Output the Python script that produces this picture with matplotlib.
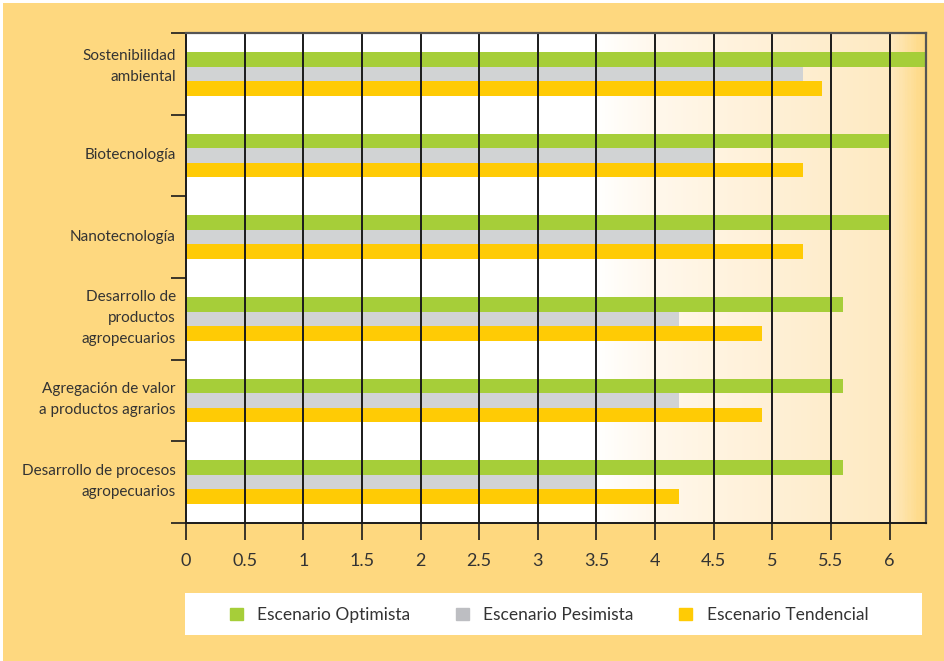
import numpy as np
import matplotlib
import matplotlib.pyplot as plt
from matplotlib.colors import LinearSegmentedColormap
from matplotlib.patches import Rectangle, Patch
from matplotlib.transforms import blended_transform_factory

matplotlib.rcParams.update({'font.family': ['Lato', 'DejaVu Sans']})

# ============================================================
# Data
# ============================================================
categories = [
    "Sostenibilidad\nambiental",
    "Biotecnología",
    "Nanotecnología",
    "Desarrollo de\nproductos\nagropecuarios",
    "Agregación de valor\na productos agrarios",
    "Desarrollo de procesos\nagropecuarios",
]
optimista  = [6.3, 6.0, 6.0, 5.6, 5.6, 5.6]
pesimista  = [5.26, 4.5, 4.5, 4.2, 4.2, 3.5]
tendencial = [5.42, 5.26, 5.26, 4.91, 4.91, 4.2]
series_names = ["Escenario Optimista", "Escenario Pesimista", "Escenario Tendencial"]
xticks = np.arange(0, 6.01, 0.5)
xtick_labels = ["0", "0.5", "1", "1.5", "2", "2.5", "3", "3.5", "4", "4.5", "5", "5.5", "6"]

# ============================================================
# Style
# ============================================================
bg_yellow  = '#FED87F'
c_green    = '#A6CE39'
c_grey     = '#D1D3D4'
c_grey_leg = '#BDBEC2'
c_yellow   = '#FFCB05'
txt_col    = '#333333'
xmax = 6.31

fig = plt.figure(figsize=(9.45, 6.61), dpi=100)
fig.patch.set_facecolor('white')
fig.patches.append(Rectangle((3/945, 0), 1, 1 - 3/661, transform=fig.transFigure,
                             facecolor=bg_yellow, edgecolor='none', zorder=-10))

ax = fig.add_axes([186/945, 1 - 523/661, (926 - 186)/945, (523 - 33)/661])
ax.set_facecolor('white')

# background gradient inside the plot area
grad_cmap = LinearSegmentedColormap.from_list('bg', [
    (0.0, '#FFFFFF'),
    (3.5/xmax, '#FFFFFF'),
    (4.0/xmax, '#FFF8EC'),
    (5.0/xmax, '#FFF0D6'),
    (6.0/xmax, '#FEEAC2'),
    (6.12/xmax, '#FEE4AC'),
    (1.0, '#FED983'),
])
grad = np.linspace(0, 1, 600).reshape(1, -1)
ax.imshow(grad, cmap=grad_cmap, aspect='auto', extent=[0, xmax, 5.5, -0.5],
          zorder=0, interpolation='bilinear')

y = np.arange(len(categories))
h = 0.178
ax.barh(y - h, optimista,  height=h, color=c_green,  zorder=2)
ax.barh(y,     pesimista,  height=h, color=c_grey,   zorder=2)
ax.barh(y + h, tendencial, height=h, color=c_yellow, zorder=2)

ax.set_xlim(0, xmax)
ax.set_ylim(5.5, -0.5)

# vertical grid lines on top of bars
for xv in xticks[1:]:
    ax.axvline(xv, color='#1a1a1a', lw=1.4, zorder=3)

ax.set_xticks(xticks)
ax.set_xticklabels(xtick_labels)
ax.tick_params(axis='x', direction='out', length=12.5, width=1.2, color='#1a1a1a',
               labelsize=13, labelcolor=txt_col, pad=9)

# category labels (first one sits a bit higher in the original)
ax.set_yticks([])
ax.set_yticks(np.arange(-0.5, 5.6, 1.0), minor=True)
ax.tick_params(axis='y', which='minor', direction='out', length=11, width=1.2, color='#1a1a1a')
lab_tr = blended_transform_factory(fig.transFigure, ax.transData)
lab_shift = [-0.09, 0.0, 0.0, -0.01, -0.01, -0.01]
for yi, lab, dy in zip(y, categories, lab_shift):
    ax.text(176/945, yi + dy, lab, transform=lab_tr, ha='right', va='center',
            fontsize=11, color=txt_col, linespacing=1.6, multialignment='right')

for side in ['left', 'bottom']:
    ax.spines[side].set_color('#1a1a1a')
    ax.spines[side].set_linewidth(1.4)
for side in ['top', 'right']:
    ax.spines[side].set_color('#555555')
    ax.spines[side].set_linewidth(1.6)
for sp in ax.spines.values():
    sp.set_zorder(4)

# ============================================================
# Legend
# ============================================================
fig.patches.append(Rectangle((185/945, 1 - 635/661), (922 - 185)/945, 42/661,
                             transform=fig.transFigure, facecolor='white',
                             edgecolor='none', zorder=-5))
handles = [Patch(color=c_green), Patch(color=c_grey_leg), Patch(color=c_yellow)]
fig.legend(handles, series_names, loc='center', ncol=3, frameon=False,
           bbox_to_anchor=(549/945, 1 - 615/661), fontsize=12.5,
           handlelength=0.75, handleheight=0.75, handletextpad=0.85,
           columnspacing=2.6, labelcolor=txt_col)

fig.savefig('out.png', dpi=100)
